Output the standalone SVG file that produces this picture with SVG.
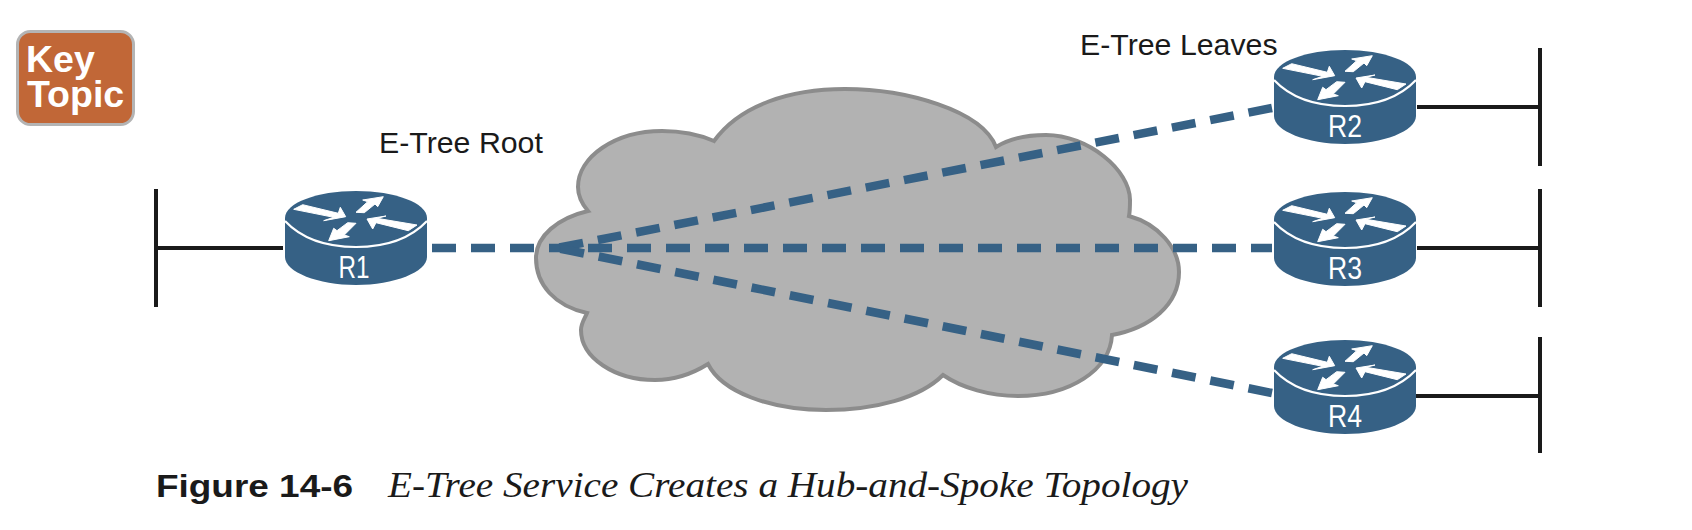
<svg xmlns="http://www.w3.org/2000/svg" width="1692" height="530" viewBox="0 0 1692 530">
<style>
.lan{stroke:#1a1a1a;stroke-width:4;fill:none}
.wan{stroke:#366185;stroke-width:8.5;fill:none;stroke-dasharray:24 15}
.body{fill:#366185}
.lip{fill:none;stroke:#fff;stroke-width:2.2}
.arr{fill:#fff;stroke:#fff;stroke-width:1;stroke-linejoin:round}
.lbl{font-family:"Liberation Sans",Arial,sans-serif;font-size:30.3px;fill:#1a1a1a}
.rl{font-family:"Liberation Sans",Arial,sans-serif;font-size:32px;fill:#fff;text-anchor:middle}
.key{font-family:"Liberation Sans",Arial,sans-serif;font-size:37.5px;font-weight:bold;fill:#fff}
</style>
<defs>
<g id="router">
<path class="body" d="M-71,0 C-71,-15 -39,-27 0,-27 C39,-27 71,-15 71,0 V39 C71,54 38,67 0,67 C-38,67 -71,54 -71,39 Z"/>
<path class="lip" d="M-71,3 C-55,20 -30,29 0,29 C30,29 55,20 71,3"/>
<polygon class="arr" points="-62.3,-8.7 -53.3,-13.3 -17.7,-4.7 -15.7,-10.7 -10.3,-1.3 -32.3,2.7 -22.3,-0.7"/>
<polygon class="arr" points="0,-5.7 8.3,-5.3 19,-14 21.7,-11.3 27.3,-21.3 6.7,-18 11.7,-16.3"/>
<polygon class="arr" points="61,7 52.3,12.7 20,4.7 16.7,11 11,1 30,-2 21,0.3"/>
<polygon class="arr" points="0,5.3 -8.3,4.7 -19,12.7 -22.3,10.3 -27.3,22.7 -6.7,18.7 -11.7,17"/>
</g>
</defs>
<rect width="1692" height="530" fill="#fff"/>
<g id="key-topic">
<rect x="17.5" y="31.5" width="116" height="93" rx="13" fill="#c16737" stroke="#b4b4b4" stroke-width="3"/>
<text class="key"><tspan x="26" y="72">Key</tspan><tspan x="27" y="107">Topic</tspan></text>
</g>
<g id="cloud">
<path d="M714,141 C740,105 790,89 845,89 C905,89 982,110 996,147 C1010,138 1028,135 1046,135 C1088,135 1130,170 1130,200 C1130,206 1130,211 1129,216 C1158,224 1179,248 1179,272 C1179,305 1150,328 1112,335 C1110,370 1070,396 1018,396 C990,396 962,388 943,375 C920,398 875,410 826,410 C770,410 722,392 708,364 C692,374 675,380 655,380 C615,380 581,358 581,330 C581,323 585,318 587,313 C555,306 536,285 536,258 C536,236 558,218 588,211 C582,204 578,196 578,187 C578,157 615,131 662,131 C682,131 700,135 714,141 Z" fill="#b2b2b2" stroke="#8c8c8c" stroke-width="4"/>
</g>
<g id="connectors">
<path class="lan" d="M156,189 V307 M156,248 H283"/>
<path class="lan" d="M1417,107 H1540 M1540,48 V166"/>
<path class="lan" d="M1417,248 H1540 M1540,189 V307"/>
<path class="lan" d="M1415,396 H1540 M1540,337 V453"/>
<path class="wan" d="M432,248 H1272"/>
<path class="wan" d="M1272,108 L552,249"/>
<path class="wan" d="M1272,393 L552,247"/>
</g>
<g id="R1"><use href="#router" x="356" y="218"/><text class="rl" x="354" y="278" textLength="31" lengthAdjust="spacingAndGlyphs">R1</text></g>
<g id="R2"><use href="#router" x="1345" y="77"/><text class="rl" x="1345" y="137" textLength="34" lengthAdjust="spacingAndGlyphs">R2</text></g>
<g id="R3"><use href="#router" x="1345" y="219"/><text class="rl" x="1345" y="279" textLength="34" lengthAdjust="spacingAndGlyphs">R3</text></g>
<g id="R4"><use href="#router" x="1345" y="367"/><text class="rl" x="1345" y="427" textLength="34" lengthAdjust="spacingAndGlyphs">R4</text></g>
<text class="lbl" x="379" y="153">E-Tree Root</text>
<text class="lbl" x="1080" y="55">E-Tree Leaves</text>
<text x="156" y="497" font-family="'Liberation Sans',Arial,sans-serif" font-size="32" font-weight="bold" fill="#1a1a1a" textLength="197" lengthAdjust="spacingAndGlyphs">Figure 14-6</text>
<text x="388" y="497" font-family="'Liberation Serif','Times New Roman',serif" font-size="35" font-style="italic" fill="#1a1a1a" textLength="800" lengthAdjust="spacingAndGlyphs">E-Tree Service Creates a Hub-and-Spoke Topology</text>
</svg>
